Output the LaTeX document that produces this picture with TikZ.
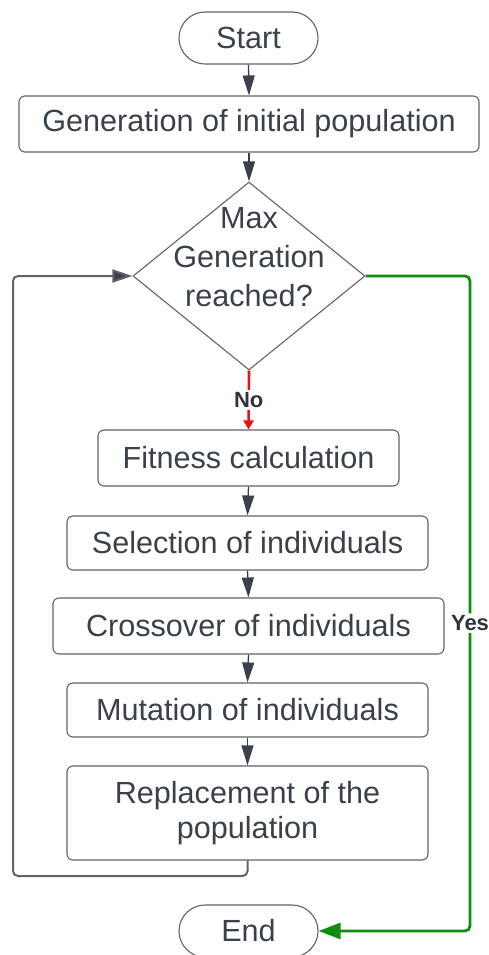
\documentclass[tikz,border=0pt]{standalone}
\usepackage{fontspec}
\setmainfont{Liberation Sans}
\usetikzlibrary{arrows.meta,shapes.geometric}
\definecolor{txtgray}{RGB}{58,64,76}
\definecolor{linegray}{RGB}{95,99,106}
\definecolor{yesgreen}{RGB}{16,140,16}
\definecolor{nored}{RGB}{228,20,20}
\newcommand{\stepfont}{\fontsize{30.6}{35}\selectfont}

\begin{document}
\begin{tikzpicture}[x = 1pt, y = -1pt, every node/.style = {draw = linegray, line width = 1.1pt, text = txtgray, font = \stepfont, inner sep = 0pt, align = center},
	terminal/.style = {rectangle, rounded corners = 26pt, minimum width = 139pt, minimum height = 52pt},
	process/.style = {rectangle, rounded corners = 6pt, minimum height = 56pt},
	decision/.style = {diamond, minimum width = 232pt, minimum height = 188pt},
	answer/.style = {draw = none, fill = white, text = txtgray!80!black, font = \fontsize{22}{26}\selectfont\bfseries, inner sep = 2pt},
	flow/.style = {draw = txtgray, line width = 1.3pt, -{Triangle[length = 20pt, width = 12pt]}}]

	\useasboundingbox (0, 0) rectangle (489, 955);

	\node (start) at (248.5,  38) [terminal] {Start};
	\node (init)  at (249,   124) [process, minimum width = 460pt] {Generation of initial population};
	\node (dec)   at (249,   276) [decision] {};
	\node (dectext) at (249, 257) [draw = none, font = \fontsize{30.6}{39}\selectfont] {Max\\Generation\\reached?};
	\node (fit)   at (248.5, 458) [process, minimum width = 301pt] {Fitness calculation};
	\node (sel)   at (247.5, 543) [process, minimum width = 361pt, minimum height = 54pt] {Selection of individuals};
	\node (cross) at (248.5, 626) [process, minimum width = 391pt] {Crossover of individuals};
	\node (mut)   at (247.5, 710) [process, minimum width = 361pt, minimum height = 54pt] {Mutation of individuals};
	\node (repl)  at (247.5, 813) [process, minimum width = 361pt, minimum height = 94pt] {Replacement of the\\population};
	\node (stop)  at (248.5, 931) [terminal] {End};

	\coordinate (loopbend) at (13, 876);
	\coordinate (yesbend)  at (470, 931);

	\foreach \from/\to in {start/init, init/dec, fit/sel, sel/cross, cross/mut, mut/repl}
		\draw [flow] (\from.south) -- (\to.north);

	\draw [nored, line width = 2.6pt, -{Triangle[length = 9pt, width = 10pt]}] (dec.south) -- node [answer] {No} (fit.north);
	\draw [linegray, line width = 2pt, rounded corners = 5pt, -{Triangle[length = 20pt, width = 13pt, fill = txtgray]}] (repl.south) |- (loopbend) |- (dec.west);
	\draw [yesgreen, line width = 2.8pt, rounded corners = 5pt, -{Triangle[length = 22pt, width = 16pt]}] (dec.east) -| node [answer, pos = 0.765] {Yes} (yesbend) -- (stop.east);
\end{tikzpicture}
\end{document}
